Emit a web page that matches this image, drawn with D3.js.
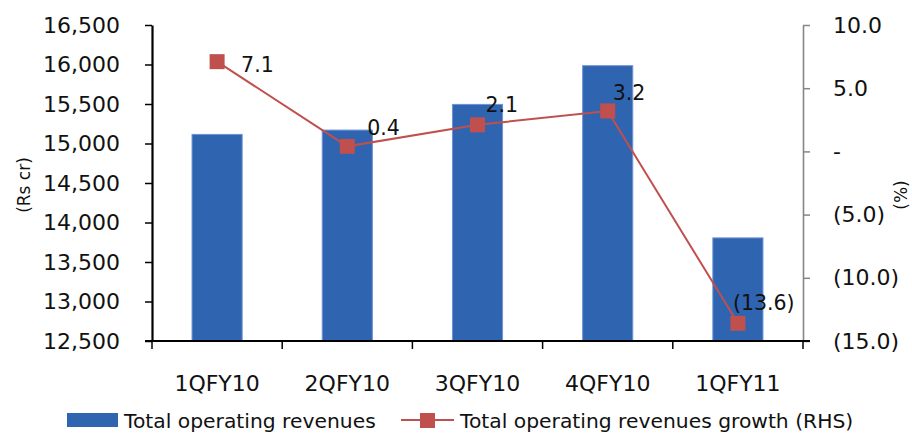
<!DOCTYPE html>
<html>
<head>
<meta charset="utf-8">
<script src="https://cdn.jsdelivr.net/npm/d3@7"></script>
<style>
  html, body { margin: 0; padding: 0; background: #fff; }
  svg { display: block; font-family: "DejaVu Sans", sans-serif; }
</style>
</head>
<body>
<svg id="chart" width="912" height="433"></svg>
<script>
// Quarterly data
const categories = ["1QFY10", "2QFY10", "3QFY10", "4QFY10", "1QFY11"];
const revenues = [15115, 15170, 15495, 15985, 13805];      // Rs cr
const growth = [7.1, 0.4, 2.1, 3.2, -13.6];                 // %, right-hand scale
const leftTicks = [12500, 13000, 13500, 14000, 14500, 15000, 15500, 16000, 16500];
const rightTicks = [-15, -10, -5, 0, 5, 10];
const seriesNames = ["Total operating revenues", "Total operating revenues growth (RHS)"];

// Layout
const plot = { left: 152, right: 803, top: 25, bottom: 341 };
const barColor = "#2f64b0", barEdge = "#6f93d3", lineColor = "#c0504d";
// label placement relative to each point: [dx to text start, dy to text middle]
const labelOffsets = [[24, 3], [20, -19], [8, -20], [5, -18], [-5, -21]];

const svg = d3.select("#chart");

const x = d3.scaleBand().domain(categories).range([plot.left, plot.right]).padding(0);
const yL = d3.scaleLinear().domain([12500, 16500]).range([plot.bottom, plot.top]);
const yR = d3.scaleLinear().domain([-15, 10]).range([plot.bottom, plot.top]);
const barW = x.bandwidth() * 0.385;
const cx = c => x(c) + x.bandwidth() / 2;

// Bars
svg.append("g").selectAll("rect").data(categories).join("rect")
  .attr("x", (c) => cx(c) - barW / 2)
  .attr("y", (c, i) => yL(revenues[i]))
  .attr("width", barW)
  .attr("height", (c, i) => yL(12500) - yL(revenues[i]))
  .attr("fill", barColor)
  .attr("stroke", barEdge)
  .attr("stroke-width", 1);

// Left axis
const axL = svg.append("g").attr("transform", `translate(${plot.left},0)`)
  .call(d3.axisLeft(yL).tickValues(leftTicks).tickSize(7).tickSizeOuter(0).tickPadding(25)
    .tickFormat(d3.format(",")));
axL.select(".domain").attr("stroke", "#000").attr("stroke-width", 2.2);
axL.selectAll(".tick line").attr("stroke", "#000").attr("stroke-width", 1.5);
axL.selectAll(".tick text").attr("font-size", 22).attr("fill", "#111")
  .attr("font-family", "DejaVu Sans");

// Right axis
const fmtR = v => v === 0 ? "-" : (v < 0 ? `(${d3.format(".1f")(-v)})` : d3.format(".1f")(v));
const axR = svg.append("g").attr("transform", `translate(${plot.right},0)`)
  .call(d3.axisRight(yR).tickValues(rightTicks).tickSize(7).tickSizeOuter(0).tickPadding(23)
    .tickFormat(fmtR));
axR.select(".domain").attr("stroke", "#868686").attr("stroke-width", 1.6);
axR.selectAll(".tick line").attr("stroke", "#868686").attr("stroke-width", 1.5);
axR.selectAll(".tick text").attr("font-size", 22).attr("fill", "#111")
  .attr("font-family", "DejaVu Sans");

// Bottom axis: baseline with ticks at category boundaries
const axB = svg.append("g");
axB.append("line")
  .attr("x1", plot.left - 7).attr("x2", plot.right + 7)
  .attr("y1", plot.bottom).attr("y2", plot.bottom)
  .attr("stroke", "#000").attr("stroke-width", 2.2);
const bounds = categories.map(c => x(c)).concat([plot.right]);
axB.selectAll("line.tk").data(bounds).join("line").attr("class", "tk")
  .attr("x1", d => d).attr("x2", d => d)
  .attr("y1", plot.bottom).attr("y2", plot.bottom + 8)
  .attr("stroke", "#000").attr("stroke-width", 1.5);
axB.selectAll("text").data(categories).join("text")
  .attr("x", c => cx(c)).attr("y", 391)
  .attr("text-anchor", "middle").attr("font-size", 22).attr("fill", "#111")
  .text(c => c);

// Axis titles
svg.append("text").attr("transform", "translate(30,185) rotate(-90)")
  .attr("text-anchor", "middle").attr("font-size", 17).attr("fill", "#111").text("(Rs cr)");
svg.append("text").attr("transform", "translate(907,195) rotate(-90)")
  .attr("text-anchor", "middle").attr("font-size", 17).attr("fill", "#111").text("(%)");

// Growth line with square markers
const line = d3.line().x((d, i) => cx(categories[i])).y(d => yR(d));
svg.append("path").datum(growth).attr("d", line)
  .attr("fill", "none").attr("stroke", lineColor).attr("stroke-width", 2);
const mk = 15;
svg.append("g").selectAll("rect").data(growth).join("rect")
  .attr("x", (d, i) => cx(categories[i]) - mk / 2)
  .attr("y", d => yR(d) - mk / 2)
  .attr("width", mk).attr("height", mk)
  .attr("fill", lineColor);

// Data labels
svg.append("g").selectAll("text").data(growth).join("text")
  .attr("x", (d, i) => cx(categories[i]) + labelOffsets[i][0])
  .attr("y", (d, i) => yR(d) + labelOffsets[i][1])
  .attr("dy", "0.36em")
  .attr("font-size", 20.5).attr("fill", "#111")
  .text(d => d < 0 ? `(${d3.format(".1f")(-d)})` : d3.format(".1f")(d));

// Legend
const lg = svg.append("g");
lg.append("rect").attr("x", 67).attr("y", 413).attr("width", 51).attr("height", 14).attr("fill", barColor);
lg.append("text").attr("x", 124).attr("y", 428).attr("font-size", 20.3).attr("fill", "#111").text(seriesNames[0]);
lg.append("line").attr("x1", 401).attr("x2", 454).attr("y1", 420).attr("y2", 420)
  .attr("stroke", lineColor).attr("stroke-width", 2);
lg.append("rect").attr("x", 420).attr("y", 413).attr("width", 15).attr("height", 15).attr("fill", lineColor);
lg.append("text").attr("x", 460).attr("y", 428).attr("font-size", 20.3).attr("fill", "#111").text(seriesNames[1]);
</script>
</body>
</html>
